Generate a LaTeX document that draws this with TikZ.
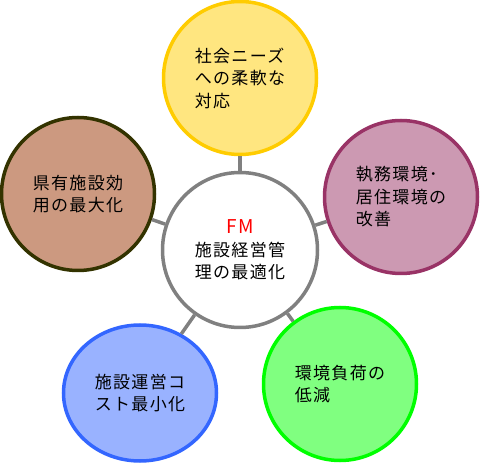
\documentclass[tikz,border=0pt]{standalone}
\usepackage{fontspec}
\setmainfont{Noto Sans CJK JP}[LetterSpace=8]
\usetikzlibrary{shapes.geometric}
\definecolor{cgray}{HTML}{808080}
\definecolor{cyel}{HTML}{FFCC00}
\definecolor{colive}{HTML}{333300}
\definecolor{cbrown}{HTML}{993300}
\definecolor{cplum}{HTML}{993366}
\definecolor{cblue}{HTML}{3366FF}
\definecolor{cgreen}{HTML}{00FF00}
\definecolor{cred}{HTML}{FF0000}
\tikzset{
  bubble/.style={circle, minimum size=153pt, inner sep=0pt, line width=3.5pt,
    align=left, font=\fontsize{17}{22.5}\selectfont},
  hub/.style={bubble, draw=cgray, fill=white, align=center},
  link/.style={draw=cgray, line width=3.5pt}
}
\begin{document}
\begin{tikzpicture}[x=1pt,y=-1pt]
\useasboundingbox (0,0) rectangle (480,465);
\node[hub, minimum size=155pt] (c) at (240,250) {{\color{cred}\fontsize{19}{22.5}\selectfont FM}\\施設経営管\\理の最適化};
\node[bubble, draw=cyel, fill=cyel!50!white] (t) at (240,78) {社会ニーズ\\への柔軟な\\対応};
\node[bubble, draw=colive, fill=cbrown!50!white] (l) at (78,194) {県有施設効\\用の最大化};
\node[bubble, draw=cplum, fill=cplum!50!white] (r) at (401,197) {執務環境･\\居住環境の\\改善};
\node[bubble, ellipse, minimum width=153pt, minimum height=136pt, draw=cblue, fill=cblue!50!white] (bl) at (140,393) {施設運営コ\\スト最小化};
\node[bubble, draw=cgreen, fill=cgreen!50!white] (br) at (340,384) {環境負荷の\\低減};
\draw[link] (c) -- (t);
\draw[link] (c) -- (l);
\draw[link] (c) -- (r);
\draw[link] (c) -- (bl);
\draw[link] (c) -- (br);
\end{tikzpicture}
\end{document}
